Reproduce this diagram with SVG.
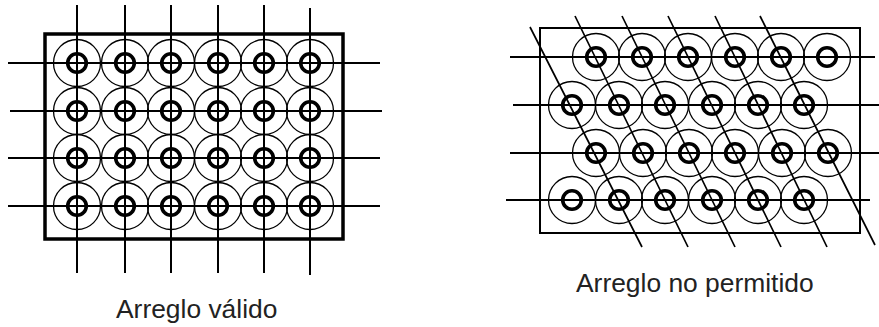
<svg xmlns="http://www.w3.org/2000/svg" width="879" height="327" viewBox="0 0 879 327">
<style>
.o{fill:none;stroke:#000;stroke-width:1.3}
.i{fill:none;stroke:#000;stroke-width:3.6}
.l{fill:none;stroke:#000;stroke-width:2}
.d{fill:none;stroke:#000;stroke-width:1.7}
.t{font-family:"Liberation Sans",Arial,sans-serif;font-size:26.4px;fill:#222}
</style>
<defs><g id="c"><circle class="o" r="23.5"/><circle class="i" r="9.3"/></g></defs>
<rect width="879" height="327" fill="#fff"/>
<g id="left-frame"><rect x="45" y="34" width="298" height="205" fill="none" stroke="#000" stroke-width="3.5"/></g>
<g id="left-array">
<use href="#c" x="77" y="63"/><use href="#c" x="125" y="63"/><use href="#c" x="171" y="63"/><use href="#c" x="218" y="63"/><use href="#c" x="264" y="63"/><use href="#c" x="310" y="63"/>
<use href="#c" x="77" y="111"/><use href="#c" x="125" y="111"/><use href="#c" x="171" y="111"/><use href="#c" x="218" y="111"/><use href="#c" x="264" y="111"/><use href="#c" x="310" y="111"/>
<use href="#c" x="77" y="158"/><use href="#c" x="125" y="158"/><use href="#c" x="171" y="158"/><use href="#c" x="218" y="158"/><use href="#c" x="264" y="158"/><use href="#c" x="310" y="158"/>
<use href="#c" x="77" y="206"/><use href="#c" x="125" y="206"/><use href="#c" x="171" y="206"/><use href="#c" x="218" y="206"/><use href="#c" x="264" y="206"/><use href="#c" x="310" y="206"/>
</g>
<g id="left-lines">
<path class="l" d="M8 63H380M10 111H382M8 158H380M8 206H380"/>
<path class="l" d="M77 5V273M125 5V273M171 5V273M218 5V273M264 5V273M310 8V275"/>
</g>
<g id="right-frame"><rect x="540" y="28" width="320" height="205" fill="none" stroke="#000" stroke-width="2"/></g>
<g id="right-array">
<use href="#c" x="596" y="57"/><use href="#c" x="642" y="57"/><use href="#c" x="688" y="57"/><use href="#c" x="735" y="57"/><use href="#c" x="781" y="57"/><use href="#c" x="827" y="57"/>
<use href="#c" x="572" y="105"/><use href="#c" x="619" y="105"/><use href="#c" x="665" y="105"/><use href="#c" x="712" y="105"/><use href="#c" x="758" y="105"/><use href="#c" x="804" y="105"/>
<use href="#c" x="596" y="153"/><use href="#c" x="643" y="153"/><use href="#c" x="689" y="153"/><use href="#c" x="735" y="153"/><use href="#c" x="782" y="153"/><use href="#c" x="828" y="153"/>
<use href="#c" x="572" y="200"/><use href="#c" x="619" y="200"/><use href="#c" x="665" y="200"/><use href="#c" x="712" y="200"/><use href="#c" x="758" y="200"/><use href="#c" x="804" y="200"/>
</g>
<g id="right-lines">
<path class="l" d="M510 57H875M513 105H879M510 153H879M506 200H870"/>
<path class="d" d="M530 27L642 247M575 16L688 247M622 16L735 247M668 16L781 247M715 16L827 247M760 16L875 245"/>
</g>
<g id="labels">
<text class="t" x="116" y="318">Arreglo válido</text>
<text class="t" x="576" y="292">Arreglo no permitido</text>
</g>
</svg>
